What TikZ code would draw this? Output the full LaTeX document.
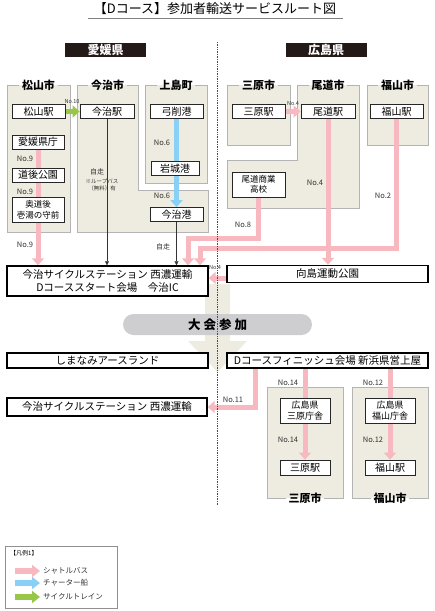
\documentclass[tikz,border=0pt]{standalone}
\usepackage{fontspec}
\setmainfont{Noto Sans CJK JP}
\usetikzlibrary{arrows.meta}

\definecolor{shuttlepink}{RGB}{247,184,192}
\definecolor{charterblue}{RGB}{138,207,245}
\definecolor{traingreen}{RGB}{150,199,72}
\definecolor{areabeige}{RGB}{238,236,224}
\definecolor{edgegray}{RGB}{180,180,180}
\definecolor{pillgray}{RGB}{206,206,209}
\definecolor{prefblack}{RGB}{35,25,22}

\pgfdeclarelayer{bg}
\pgfdeclarelayer{mid}
\pgfsetlayers{bg,mid,main}

\begin{document}
\begin{tikzpicture}[x=1pt,y=-1pt]
\tikzset{
  stopbox/.style={draw=black!85, line width=0.8pt, fill=white, inner sep=0pt,
    minimum width=53pt, minimum height=14pt, align=center,
    font=\fontsize{10}{12}\selectfont},
  twoline/.style={stopbox, minimum height=25pt, font=\fontsize{8.5}{10.5}\selectfont},
  venue/.style={draw=black, line width=1.4pt, fill=white, inner sep=0pt,
    minimum width=200pt, minimum height=17pt, align=center,
    font=\fontsize{10.5}{13}\selectfont},
  pref/.style={fill=prefblack, text=white, minimum width=81pt, minimum height=14pt,
    inner sep=0pt, font=\bfseries\fontsize{12}{14}\selectfont},
  citytitle/.style={inner xsep=2.5pt, inner ysep=0pt, font=\bfseries\fontsize{11}{13}\selectfont},
  areafill/.style={fill=areabeige},
  areaedge/.style={draw=edgegray, line width=1pt},
  shuttle/.style={draw=shuttlepink, line width=5pt, -{Triangle[width=12pt,length=7pt]}},
  charter/.style={shuttle, draw=charterblue},
  railbike/.style={shuttle, draw=traingreen},
  selfride/.style={draw=black!80, line width=0.6pt, -{Triangle[width=4pt,length=4pt]}},
  numlabel/.style={font=\fontsize{7.5}{9}\selectfont, text=black!80, inner sep=0pt},
  tinylabel/.style={font=\fontsize{5.5}{6.5}\selectfont, text=black!80, inner sep=0pt, align=center},
  pill/.style={fill=pillgray, rounded corners=10.5pt, minimum width=189pt, minimum height=21pt,
    inner sep=0pt, font=\bfseries\fontsize{12.5}{14}\selectfont},
}
\useasboundingbox (0,0) rectangle (435,611);

% title
\node (title) at (215,9) {\fontsize{13}{15}\selectfont 【Dコース】参加者輸送サービスルート図};
\draw[gray, line width=1pt] (88,18) -- (343,18);

\node[pref] (ehime) at (105.5,50) {愛媛県};
\node[pref] (hiroshima) at (326,50) {広島県};

% city areas
\node[citytitle] (tMatsuyama) at (38.5,85) {松山市};
\node[citytitle] (tImabari) at (107.5,85) {今治市};
\node[citytitle] (tKamijima) at (176,85) {上島町};
\node[citytitle] (tMihara) at (258.5,85) {三原市};
\node[citytitle] (tOnomichi) at (328,85) {尾道市};
\node[citytitle] (tFukuyama) at (397.5,85) {福山市};
\node[citytitle] (tMiharaB) at (305,498) {三原市};
\node[citytitle] (tFukuyamaB) at (390,498) {福山市};

\begin{pgfonlayer}{bg}
  \fill[areafill] (7,85) rectangle (70,232);
  \draw[areaedge] (tMatsuyama.east) -- (70,85) -- (70,232) -- (7,232) -- (7,85) -- (tMatsuyama.west);
  \fill[areafill] (77,85) -- (138,85) -- (138,190) -- (208,190) -- (208,232) -- (77,232) -- cycle;
  \draw[areaedge] (tImabari.east) -- (138,85) -- (138,190) -- (208,190) -- (208,232) -- (77,232) -- (77,85) -- (tImabari.west);
  \fill[areafill] (145,85) rectangle (207,183);
  \draw[areaedge] (tKamijima.east) -- (207,85) -- (207,183) -- (145,183) -- (145,85) -- (tKamijima.west);
  \fill[areafill] (227,85) rectangle (290,145);
  \draw[areaedge] (tMihara.east) -- (290,85) -- (290,145) -- (227,145) -- (227,85) -- (tMihara.west);
  \fill[areafill] (297,85) -- (359,85) -- (359,208) -- (227,208) -- (227,160) -- (297,160) -- cycle;
  \draw[areaedge] (tOnomichi.east) -- (359,85) -- (359,208) -- (227,208) -- (227,160) -- (297,160) -- (297,85) -- (tOnomichi.west);
  \fill[areafill] (367,85) rectangle (428,145);
  \draw[areaedge] (tFukuyama.east) -- (428,85) -- (428,145) -- (367,145) -- (367,85) -- (tFukuyama.west);
  \fill[areafill] (267,387) rectangle (343,498);
  \draw[areaedge] (tMiharaB.east) -- (343,498) -- (343,387) -- (267,387) -- (267,498) -- (tMiharaB.west);
  \fill[areafill] (352,387) rectangle (428,498);
  \draw[areaedge] (tFukuyamaB.east) -- (428,498) -- (428,387) -- (352,387) -- (352,498) -- (tFukuyamaB.west);
  % big arrow behind the banner
  \fill[areafill] (205,284) -- (230,284) -- (230,341) -- (247,341) -- (217.5,372) -- (188,341) -- (205,341) -- cycle;
\end{pgfonlayer}

% stops
\node[stopbox] (matsuyamaSta) at (38.5,111.5) {松山駅};
\node[stopbox, minimum width=52pt] (ehimePref) at (38,142) {愛媛県庁};
\node[stopbox, minimum width=52pt] (dogoPark) at (38,175) {道後公園};
\node[twoline, minimum width=52pt] (okudogo) at (38,210) {奥道後\\壱湯の守前};
\node[stopbox, minimum width=54pt] (imabariSta) at (107,111.5) {今治駅};
\node[stopbox] (yugePort) at (176.5,111.5) {弓削港};
\node[stopbox, minimum width=48pt] (iwagiPort) at (175,168.5) {岩城港};
\node[stopbox] (imabariPort) at (176.5,214.5) {今治港};
\node[stopbox] (miharaSta) at (258.5,111.5) {三原駅};
\node[stopbox, minimum width=54pt] (onomichiSta) at (328,111.5) {尾道駅};
\node[stopbox] (fukuyamaSta) at (396.5,111.5) {福山駅};
\node[twoline] (onoHigh) at (258.5,184.5) {尾道商業\\高校};

% venues
\node[venue, minimum width=201pt, minimum height=30pt] (startBox) at (107.5,281)
  {今治サイクルステーション 西濃運輸\\Dコーススタート会場　今治IC};
\node[venue, minimum width=201pt] (mukaishima) at (327.5,274) {向島運動公園};
\node[pill] (taikai) at (217.5,324.5) {大\hspace{3pt}会\hspace{3pt}参\hspace{3pt}加};
\node[venue, minimum width=201pt, minimum height=15pt] (shimanami) at (107.5,360.5) {しまなみアースランド};
\node[venue, minimum width=201pt, minimum height=15pt] (finishBox) at (327.5,360.5) {Dコースフィニッシュ会場 新浜県営上屋};
\node[venue, minimum height=18pt] (cycleSta) at (107,407) {今治サイクルステーション 西濃運輸};
\node[twoline, minimum width=50pt, font=\fontsize{9}{11.5}\selectfont] (miharaOffice) at (305,410.5) {広島県\\三原庁舎};
\node[stopbox, minimum width=50pt, minimum height=15pt] (miharaStaB) at (305,467.5) {三原駅};
\node[twoline, minimum width=50pt, font=\fontsize{9}{11.5}\selectfont] (fukuyamaOffice) at (390,410.5) {広島県\\福山庁舎};
\node[stopbox, minimum width=50pt, minimum height=15pt] (fukuyamaStaB) at (390,467.5) {福山駅};

% routes
\coordinate (n8turn) at (188,238);
\coordinate (n2turn) at (200,248);
\coordinate (n4left) at (0,278);
\coordinate (n11turn) at (255,407);
\begin{pgfonlayer}{mid}
  \draw[railbike] (matsuyamaSta.east) -- (imabariSta.west);
  \draw[shuttle] (ehimePref.south) -- (ehimePref.south |- startBox.north);
  \draw[charter] (yugePort.south) -- (yugePort.south |- imabariPort.north);
  \draw[selfride] (imabariSta.south) -- (imabariSta.south |- startBox.north);
  \draw[selfride] (imabariPort.south) -- (imabariPort.south |- startBox.north);
  \draw[shuttle] (miharaSta.east) -- (onomichiSta.west);
  \draw[shuttle] (onomichiSta.south) -- (onomichiSta.south |- mukaishima.north);
  \draw[shuttle] (onoHigh.south) |- (n8turn) -- (n8turn |- startBox.north);
  \draw[shuttle] (fukuyamaSta.south) |- (n2turn) -- (n2turn |- startBox.north);
  \draw[shuttle] (mukaishima.west |- n4left) -- (startBox.east |- n4left);
  \draw[shuttle] (n11turn |- finishBox.south) |- (cycleSta.east);
  \draw[shuttle] (miharaOffice.north |- finishBox.south) -- (miharaStaB.north);
  \draw[shuttle] (fukuyamaOffice.north |- finishBox.south) -- (fukuyamaStaB.north);
\end{pgfonlayer}

% route labels
\node[tinylabel] (l10) at (72,102) {No.10};
\node[numlabel] (l9a) at (25,159) {No.9};
\node[numlabel] (l9b) at (25,192) {No.9};
\node[numlabel] (l9c) at (25,245) {No.9};
\node[numlabel, font=\fontsize{7}{8}\selectfont] (lSelfA) at (97,172) {自走};
\node[tinylabel] (lLoop) at (102,185) {※ループバス\\（無料）有};
\node[numlabel] (l6a) at (162,143) {No.6};
\node[numlabel] (l6b) at (162,196) {No.6};
\node[numlabel, font=\fontsize{7}{8}\selectfont] (lSelfB) at (163,247) {自走};
\node[tinylabel] (l4a) at (293,104) {No.4};
\node[numlabel] (l4b) at (315,183) {No.4};
\node[numlabel] (l2) at (383,196) {No.2};
\node[numlabel] (l8) at (243,225) {No.8};
\node[tinylabel] (l4c) at (215,268) {No.4};
\node[numlabel] (l11) at (233,400) {No.11};
\node[numlabel] (l14a) at (288,383) {No.14};
\node[numlabel] (l14b) at (288,440) {No.14};
\node[numlabel] (l12a) at (373,383) {No.12};
\node[numlabel] (l12b) at (373,440) {No.12};

% prefecture border
\coordinate (divTop) at (217,42);
\coordinate (divBot) at (217,505);
\draw[black!70, line width=0.7pt, densely dotted] (divTop) -- (divBot);

% legend
\draw[edgegray!80!black, line width=0.7pt] (5,546) rectangle (117,608);
\node[anchor=west, inner sep=0pt, font=\fontsize{6}{7}\selectfont] (lgTitle) at (10,553) {【凡例1】};
\node[anchor=west, numlabel] (lgShuttle) at (43,571) {シャトルバス};
\node[anchor=west, numlabel] (lgCharter) at (43,583) {チャーター船};
\node[anchor=west, numlabel] (lgTrain) at (43,597) {サイクルトレイン};
\draw[shuttle, line width=6pt, -{Triangle[width=12pt,length=8pt]}] ([xshift=-28pt]lgShuttle.west) -- ([xshift=-3pt]lgShuttle.west);
\draw[charter, line width=6pt, -{Triangle[width=12pt,length=8pt]}] ([xshift=-28pt]lgCharter.west) -- ([xshift=-3pt]lgCharter.west);
\draw[railbike, line width=6pt, -{Triangle[width=12pt,length=8pt]}] ([xshift=-28pt]lgTrain.west) -- ([xshift=-3pt]lgTrain.west);
\end{tikzpicture}
\end{document}
